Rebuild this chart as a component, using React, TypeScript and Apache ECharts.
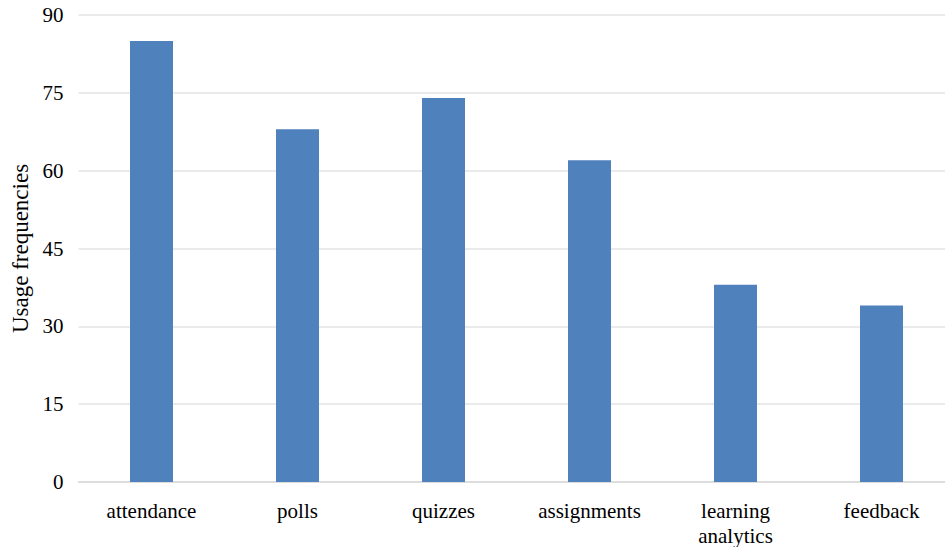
import React, { useEffect, useRef } from "react";
import * as echarts from "echarts";

const categories = ["attendance", "polls", "quizzes", "assignments", "learning\nanalytics", "feedback"];
const usage = [85, 68, 74, 62, 38, 34];
const yTicks = { min: 0, max: 90, interval: 15 };

const FONT = "'Liberation Serif', 'Times New Roman', serif";

export default function App() {
  const ref = useRef<HTMLDivElement>(null);

  useEffect(() => {
    if (!ref.current) return;
    const chart = echarts.init(ref.current, null, { renderer: "svg" });
    chart.setOption({
      animation: false,
      backgroundColor: "#ffffff",
      grid: {
        left: 78.5,
        top: 15,
        width: 876,
        height: 467,
        containLabel: false,
        outerBoundsMode: "none",
      },
      xAxis: {
        type: "category",
        data: categories,
        axisLine: { show: true, lineStyle: { color: "#d9d9d9", width: 1.5 } },
        axisTick: { show: false },
        axisLabel: {
          color: "#000",
          fontFamily: FONT,
          fontSize: 21,
          margin: 16,
          lineHeight: 25,
          interval: 0,
        },
      },
      yAxis: {
        type: "value",
        min: yTicks.min,
        max: yTicks.max,
        interval: yTicks.interval,
        name: "Usage frequencies",
        nameLocation: "middle",
        nameGap: 44,
        nameTextStyle: { color: "#000", fontFamily: FONT, fontSize: 23 },
        axisLine: { show: false },
        axisTick: { show: false },
        splitLine: { lineStyle: { color: "#e3e3e3", width: 1.5 } },
        axisLabel: { color: "#000", fontFamily: FONT, fontSize: 21, margin: 15 },
      },
      series: [
        {
          type: "bar",
          data: usage,
          barWidth: 43,
          itemStyle: { color: "#4f81bd" },
        },
      ],
    });
    return () => chart.dispose();
  }, []);

  return (
    <div
      ref={ref}
      style={{ position: "fixed", left: 0, top: 0, width: 945, height: 547 }}
    />
  );
}
